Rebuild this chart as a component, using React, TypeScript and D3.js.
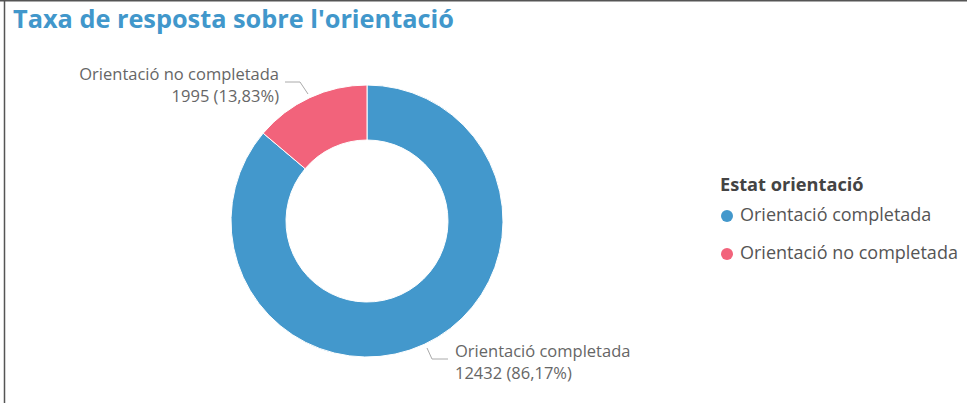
import React from "react";
import * as d3 from "d3";

const categories = ["Orientació completada", "Orientació no completada"];
const values = [12432, 1995];
const percents = ["86,17%", "13,83%"];
const colors = ["#4398cc", "#f2637b"];
const titleText = "Taxa de resposta sobre l'orientació";
const legendTitle = "Estat orientació";

export default function App() {
  const W = 967, H = 403;
  const cx = 367, cy = 221, R = 136, r = 81;
  const pie = d3.pie<number>().sort(null).value((d) => d);
  const arcs = pie(values);
  const arcGen = d3.arc<d3.PieArcDatum<number>>().innerRadius(r).outerRadius(R);
  const font = "'Segoe UI', 'Open Sans', sans-serif";
  return (
    <svg width={W} height={H} style={{ position: "absolute", left: 0, top: 0, background: "#fff" }}>
      <line x1={0} y1={0.75} x2={W} y2={0.75} stroke="#555" strokeWidth={1.5} />
      <line x1={4.5} y1={0} x2={4.5} y2={H} stroke="#555" strokeWidth={1.5} />
      <text x={13} y={28} fontFamily={font} fontWeight={700} fontSize={25.3} fill="#4197cb">{titleText}</text>
      <g transform={`translate(${cx},${cy})`}>
        {arcs.map((a, i) => (
          <path key={i} d={arcGen(a) || ""} fill={colors[i]} stroke="#fff" strokeWidth={1} />
        ))}
      </g>
      {/* leader lines */}
      <polyline points="285,82 300,82 308,94" fill="none" stroke="#aaa" strokeWidth={1} />
      <polyline points="427,348 432,359 448,359" fill="none" stroke="#aaa" strokeWidth={1} />
      <g fontFamily={font} fontSize={16.5} fill="#666">
        <text x={279} y={80} textAnchor="end">{categories[1]}</text>
        <text x={279} y={102} textAnchor="end">{`${values[1]} (${percents[1]})`}</text>
        <text x={455} y={357}>{categories[0]}</text>
        <text x={455} y={379}>{`${values[0]} (${percents[0]})`}</text>
      </g>
      <g fontFamily={font}>
        <text x={720} y={191} fontSize={18.2} fontWeight={700} fill="#444">{legendTitle}</text>
        {categories.map((c, i) => (
          <g key={c}>
            <circle cx={727} cy={216 + i * 38} r={6} fill={colors[i]} />
            <text x={740} y={221 + i * 38} fontSize={18} fill="#555">{c}</text>
          </g>
        ))}
      </g>
    </svg>
  );
}
